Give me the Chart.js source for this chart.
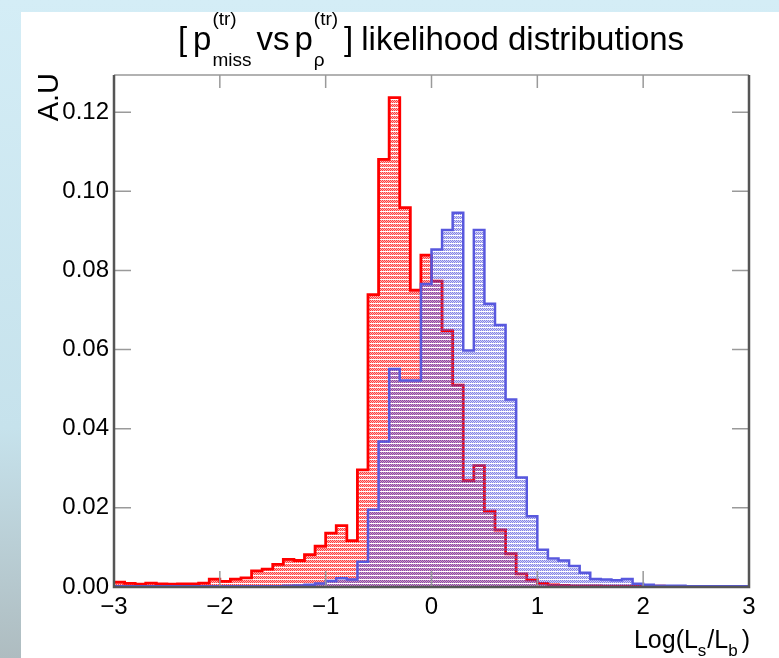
<!DOCTYPE html>
<html>
<head>
<meta charset="utf-8">
<title>likelihood distributions</title>
<script src="https://cdn.jsdelivr.net/npm/chart.js@4.4.0/dist/chart.umd.min.js"></script>
<style>
    html, body { margin: 0; padding: 0; }
    body {
        width: 779px; height: 658px; overflow: hidden;
        background: linear-gradient(to bottom, #d4edf6 0%, #c6e2ec 65%, #aebcc0 100%);
    }
    #wrap { position: relative; width: 779px; height: 658px; }
    #paper { position: absolute; left: 21px; top: 12px; right: 0; bottom: 0; background: #fff; }
    #chartBox { position: absolute; left: 0; top: 0; width: 779px; height: 658px; }
</style>
</head>
<body>
<div id="wrap">
    <div id="paper"></div>
    <div id="chartBox"><canvas id="myChart"></canvas></div>
</div>
<script>
// histogram binning: 60 bins of 0.1 from -3 to 3
const xMin = -3;
const xMax = 3;
const binWidth = 0.1;

// p_miss (red)
const redValues = [
    0.0012, 0.0009, 0.0007, 0.0010, 0.0008, 0.0007, 0.0008, 0.0008, 0.0010, 0.0020,
    0.0014, 0.0020, 0.0023, 0.0041, 0.0045, 0.0057, 0.0070, 0.0067, 0.0082, 0.0103,
    0.0136, 0.0155, 0.0117, 0.0296, 0.0739, 0.1081, 0.1237, 0.0959, 0.0750, 0.0839,
    0.0773, 0.0648, 0.0510, 0.0269, 0.0307, 0.0192, 0.0144, 0.0084, 0.0033, 0.0018,
    0.0009, 0.0005, 0.0004, 0.0003, 0.0003, 0.0003, 0.0002, 0.0002, 0.0002, 0.0002,
    0.0002, 0.0002, 0.0001, 0.0001, 0.0001, 0.0001, 0.0001, 0.0001, 0.0001, 0.0001
];

// p_rho (blue)
const blueValues = [
    0.0002, 0.0002, 0.0002, 0.0002, 0.0002, 0.0002, 0.0002, 0.0002, 0.0002, 0.0002,
    0.0002, 0.0002, 0.0002, 0.0002, 0.0002, 0.0002, 0.0003, 0.0004, 0.0006, 0.0009,
    0.0015, 0.0022, 0.0019, 0.0064, 0.0195, 0.0368, 0.0551, 0.0522, 0.0522, 0.0766,
    0.0853, 0.0902, 0.0946, 0.0598, 0.0902, 0.0716, 0.0662, 0.0474, 0.0277, 0.0179,
    0.0094, 0.0072, 0.0067, 0.0053, 0.0036, 0.0020, 0.0019, 0.0017, 0.0020, 0.0008,
    0.0006, 0.0003, 0.0003, 0.0003, 0.0002, 0.0002, 0.0002, 0.0002, 0.0002, 0.0002
];

const xTickValues = [-3, -2, -1, 0, 1, 2, 3];
const xTickLabels = ['\u22123', '\u22122', '\u22121', '0', '1', '2', '3'];
const yTickValues = [0, 0.02, 0.04, 0.06, 0.08, 0.10, 0.12];
const yTickLabels = ['0.00', '0.02', '0.04', '0.06', '0.08', '0.10', '0.12'];
const yMax = 0.1294;

const FAMILY = "'Liberation Sans', Arial, Helvetica, sans-serif";

const binEdges = [];
for (let i = 0; i <= redValues.length; i++) {
    binEdges.push(+(xMin + i * binWidth).toFixed(2));
}

// step points: one per left bin edge, plus closing point at the last edge
function histPoints(values) {
    const pts = values.map((v, i) => ({ x: binEdges[i], y: v }));
    pts.push({ x: binEdges[values.length], y: values[values.length - 1] });
    return pts;
}

// ROOT-like dotted fill
function makeHatch(rgb, strong, light) {
    const c = document.createElement('canvas');
    c.width = 4;
    c.height = 4;
    const cx = c.getContext('2d');
    for (let y = 0; y < 3; y++) {
        for (let x = 0; x < 4; x++) {
            cx.fillStyle = `rgba(${rgb},${(x + y) % 2 === 0 ? strong : light})`;
            cx.fillRect(x, y, 1, 1);
        }
    }
    return cx.createPattern(c, 'repeat');
}

const redHatch = makeHatch('255,0,0', 0.75, 0.3);
const blueHatch = makeHatch('80,80,220', 0.7, 0.25);

const framePlugin = {
    id: 'frame',
    afterDatasetsDraw(chart) {
        const { ctx, chartArea: a, scales: { x, y } } = chart;
        ctx.save();
        ctx.strokeStyle = '#9a9a9a';
        ctx.lineWidth = 1.5;
        ctx.beginPath();
        xTickValues.forEach(v => {
            const px = x.getPixelForValue(v);
            ctx.moveTo(px, a.bottom);
            ctx.lineTo(px, a.bottom - 16);
            ctx.moveTo(px, a.top);
            ctx.lineTo(px, a.top + 13);
        });
        yTickValues.forEach(v => {
            const py = y.getPixelForValue(v);
            ctx.moveTo(a.left, py);
            ctx.lineTo(a.left + 17, py);
            ctx.moveTo(a.right, py);
            ctx.lineTo(a.right - 17, py);
        });
        ctx.stroke();

        ctx.strokeStyle = '#999';
        ctx.lineWidth = 1.5;
        ctx.beginPath();
        ctx.moveTo(a.left, a.top);
        ctx.lineTo(a.right, a.top);
        ctx.stroke();

        ctx.strokeStyle = '#555';
        ctx.lineWidth = 2.5;
        ctx.beginPath();
        ctx.moveTo(a.right, a.top);
        ctx.lineTo(a.right, a.bottom);
        ctx.lineTo(a.left, a.bottom);
        ctx.lineTo(a.left, a.top);
        ctx.stroke();
        ctx.restore();
    }
};

const labelPlugin = {
    id: 'labels',
    afterDraw(chart) {
        const ctx = chart.ctx;
        ctx.save();
        ctx.fillStyle = '#000';
        ctx.textBaseline = 'alphabetic';
        ctx.textAlign = 'left';

        // title with super/subscripts
        const big = `33px ${FAMILY}`;
        const small = `19px ${FAMILY}`;
        const pieces = [
            { t: '[', gap: 6 },
            { t: 'p', gap: 1 },
            { sup: '(tr)', sub: 'miss', gap: 5 },
            { t: 'vs', gap: 5 },
            { t: 'p', gap: 1 },
            { sup: '(tr)', sub: '\u03c1', gap: 6 },
            { t: ']', gap: 8 },
            { t: 'likelihood distributions', gap: 0 }
        ];
        const widthOf = p => {
            if (p.t) {
                ctx.font = big;
                return ctx.measureText(p.t).width;
            }
            ctx.font = small;
            return Math.max(ctx.measureText(p.sup).width, ctx.measureText(p.sub).width);
        };
        let total = 0;
        pieces.forEach(p => { total += widthOf(p) + p.gap; });
        let tx = 431 - total / 2;
        pieces.forEach(p => {
            const w = widthOf(p);
            if (p.t) {
                ctx.font = big;
                ctx.fillText(p.t, tx, 50);
            } else {
                ctx.font = small;
                ctx.fillText(p.sup, tx, 25);
                ctx.fillText(p.sub, tx, 66);
            }
            tx += w + p.gap;
        });

        // x axis title: Log(L_s/L_b), right aligned to the frame
        const xf = `25px ${FAMILY}`;
        const xs = `17px ${FAMILY}`;
        const xParts = [
            { t: 'Log(L', f: xf, dy: 0, gap: 0 },
            { t: 's', f: xs, dy: 8, gap: 1 },
            { t: '/L', f: xf, dy: 0, gap: 0 },
            { t: 'b', f: xs, dy: 8, gap: 4 },
            { t: ')', f: xf, dy: 0, gap: 0 }
        ];
        let xw = 0;
        xParts.forEach(p => { ctx.font = p.f; xw += ctx.measureText(p.t).width + p.gap; });
        let lx = chart.chartArea.right + 1 - xw;
        xParts.forEach(p => {
            ctx.font = p.f;
            ctx.fillText(p.t, lx, 648 + p.dy);
            lx += ctx.measureText(p.t).width + p.gap;
        });

        // y axis title
        ctx.translate(58, 73);
        ctx.rotate(-Math.PI / 2);
        ctx.textAlign = 'right';
        ctx.font = `29px ${FAMILY}`;
        ctx.fillText('A.U', 0, 0);
        ctx.restore();
    }
};

Chart.defaults.font.family = FAMILY;
Chart.defaults.color = '#000';

const ctx = document.getElementById('myChart').getContext('2d');
const myChart = new Chart(ctx, {
    type: 'line',
    data: {
        datasets: [
            {
                label: 'p_rho',
                data: histPoints(blueValues),
                borderColor: '#5858de',
                backgroundColor: blueHatch,
                borderWidth: 2.5,
                fill: 'origin',
                stepped: true,
                pointRadius: 0,
                order: 0
            },
            {
                label: 'p_miss',
                data: histPoints(redValues),
                borderColor: '#ff0000',
                backgroundColor: redHatch,
                borderWidth: 2.8,
                fill: 'origin',
                stepped: true,
                pointRadius: 0,
                order: 1
            }
        ]
    },
    options: {
        responsive: true,
        maintainAspectRatio: false,
        animation: false,
        layout: { padding: { left: 0, right: 30, top: 75, bottom: 0 } },
        plugins: {
            legend: { display: false },
            tooltip: { enabled: false },
            title: { display: false }
        },
        scales: {
            x: {
                type: 'linear',
                min: xMin,
                max: xMax,
                grid: { display: false, drawTicks: false },
                border: { display: false },
                afterBuildTicks: s => { s.ticks = xTickValues.map(v => ({ value: v })); },
                afterFit: s => { s.height = 71; },
                ticks: {
                    callback: (v, i) => xTickLabels[i],
                    font: { size: 24 },
                    color: '#000',
                    padding: 6,
                    maxRotation: 0,
                    autoSkip: false
                }
            },
            y: {
                min: 0,
                max: yMax,
                grid: { display: false, drawTicks: false },
                border: { display: false },
                afterBuildTicks: s => { s.ticks = yTickValues.map(v => ({ value: v })); },
                afterFit: s => { s.width = 114; },
                ticks: {
                    callback: (v, i) => yTickLabels[i],
                    font: { size: 24 },
                    color: '#000',
                    padding: 5,
                    autoSkip: false
                }
            }
        }
    },
    plugins: [framePlugin, labelPlugin]
});
</script>
</body>
</html>
